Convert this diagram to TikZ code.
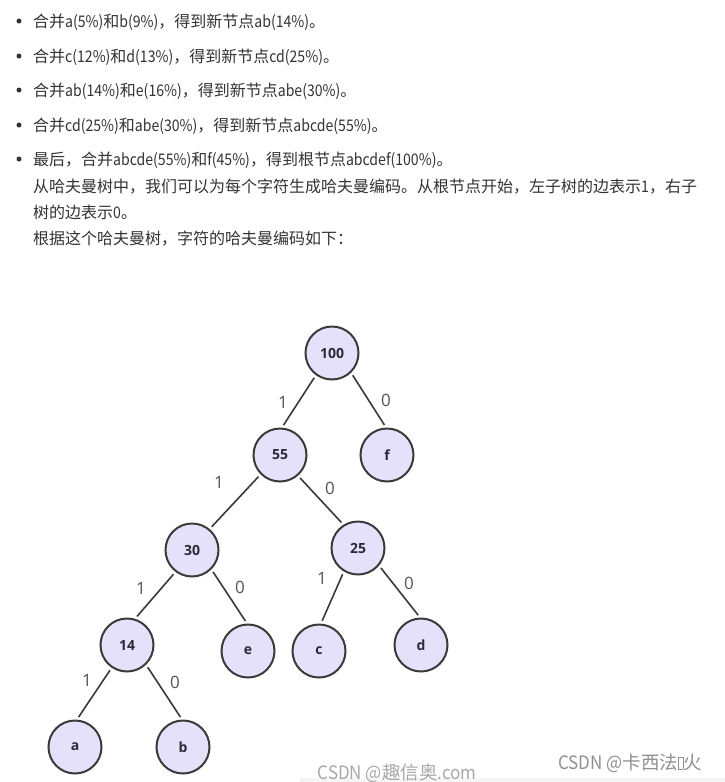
\documentclass[tikz,border=0pt]{standalone}
\usepackage{fontspec}
\setmainfont{Noto Sans CJK SC}
\newfontfamily\cjk{Noto Sans CJK SC}
\newfontfamily\latn{Noto Sans CJK SC}[FakeStretch=0.88]
\newcommand{\lt}[1]{{\latn #1}}
\newfontfamily\nodefont{Open Sans}
\newfontfamily\lblfont{Open Sans}
\newfontfamily\wmfont{Noto Sans CJK SC}
\newfontfamily\wmlatn{Noto Sans CJK SC}[FakeStretch=0.92]
\definecolor{txt}{HTML}{333333}
\definecolor{nodefill}{HTML}{E6E1FA}
\definecolor{nodeline}{HTML}{3A3A3A}
\definecolor{nodetext}{HTML}{2A2A38}
\definecolor{lbl}{HTML}{555555}
\definecolor{wm}{HTML}{A8A8A8}
\definecolor{wmdark}{HTML}{909090}
\begin{document}
\begin{tikzpicture}[x=1pt,y=-1pt,
  tnode/.style={circle, draw=nodeline, line width=2pt, fill=nodefill, minimum size=53pt, inner sep=0pt,
    font=\nodefont\bfseries\fontsize{14}{14}\selectfont, text=nodetext},
  conn/.style={draw=nodeline, line width=1.6pt, shorten <=3pt, shorten >=3pt},
  elabel/.style={font=\lblfont\fontsize{17}{17}\selectfont, text=lbl, inner sep=0pt},
  txtline/.style={anchor=base west, inner sep=0pt, font=\cjk\fontsize{16}{16}\selectfont, text=txt},
  bul/.style={circle, fill=txt, inner sep=0pt, minimum size=5pt},
  wmark/.style={inner sep=0pt, font=\wmfont\fontsize{18.5}{18.5}\selectfont}]
\useasboundingbox (0,0) rectangle (725,782);
\fill[white] (0,0) rectangle (725,782);
\fill[black!4] (300,778) rectangle (725,782);
% bullets and text
\node[bul] (b1) at (19,21) {};
\node[bul] (b2) at (19,56) {};
\node[bul] (b3) at (19,90) {};
\node[bul] (b4) at (19,125) {};
\node[bul] (b5) at (19,159) {};
\node[txtline] (t1) at (33,27) {合并\lt{a(5\%)}和\lt{b(9\%)}，得到新节点\lt{ab(14\%)}。};
\node[txtline] (t2) at (33,62) {合并\lt{c(12\%)}和\lt{d(13\%)}，得到新节点\lt{cd(25\%)}。};
\node[txtline] (t3) at (33,96) {合并\lt{ab(14\%)}和\lt{e(16\%)}，得到新节点\lt{abe(30\%)}。};
\node[txtline] (t4) at (33,131) {合并\lt{cd(25\%)}和\lt{abe(30\%)}，得到新节点\lt{abcde(55\%)}。};
\node[txtline] (t5) at (33,165) {最后，合并\lt{abcde(55\%)}和\lt{f(45\%)}，得到根节点\lt{abcdef(100\%)}。};
\node[txtline] (t6) at (33,192) {从哈夫曼树中，我们可以为每个字符生成哈夫曼编码。从根节点开始，左子树的边表示\lt{1}，右子};
\node[txtline] (t7) at (33,218) {树的边表示\lt{0}。};
\node[txtline] (t8) at (33,244) {根据这个哈夫曼树，字符的哈夫曼编码如下：};
% tree nodes
\node[tnode] (n100) at (332,353) {100};
\node[tnode] (n55) at (280,455) {55};
\node[tnode] (nf) at (387,455) {f};
\node[tnode] (n30) at (192,550) {30};
\node[tnode] (n25) at (358,548) {25};
\node[tnode] (n14) at (127,645) {14};
\node[tnode] (ne) at (248,651) {e};
\node[tnode] (nc) at (319,651) {c};
\node[tnode] (nd) at (421,645) {d};
\node[tnode] (na) at (75,747) {a};
\node[tnode] (nb) at (183,747) {b};
% connectors
\draw[conn] (n100.-126) -- (n55.86);
\draw[conn] (n100.-46) -- (nf.92);
\draw[conn] (n55.-135) -- (n30.50);
\draw[conn] (n55.-49) -- (n25.122);
\draw[conn] (n30.-127) -- (n14.73);
\draw[conn] (n30.-45) -- (ne.92);
\draw[conn] (n14.-124) -- (na.86);
\draw[conn] (n14.-46) -- (nb.92);
\draw[conn] (n25.-121) -- (nc.86);
\draw[conn] (n25.-40) -- (nd.92);
% edge labels
\node[elabel] (l1) at (283,402) {1};
\node[elabel] (l2) at (386,400) {0};
\node[elabel] (l3) at (219,482) {1};
\node[elabel] (l4) at (330,488) {0};
\node[elabel] (l5) at (141,588) {1};
\node[elabel] (l6) at (240,587) {0};
\node[elabel] (l7) at (87,680) {1};
\node[elabel] (l8) at (175,682) {0};
\node[elabel] (l9) at (322,578) {1};
\node[elabel] (l10) at (409,583) {0};
% watermarks
\node[wmark, text=wm] (w1) at (397,773) {{\wmlatn CSDN @}趣信奥{\wmlatn .com}};
\node[wmark, text=wmdark] (w2) at (630,763) {{\wmlatn CSDN @}卡西法{\setlength{\fboxsep}{0pt}\setlength{\fboxrule}{0.6pt}\fbox{\rule{0pt}{12pt}\hspace{4pt}}}火};
\end{tikzpicture}
\end{document}
